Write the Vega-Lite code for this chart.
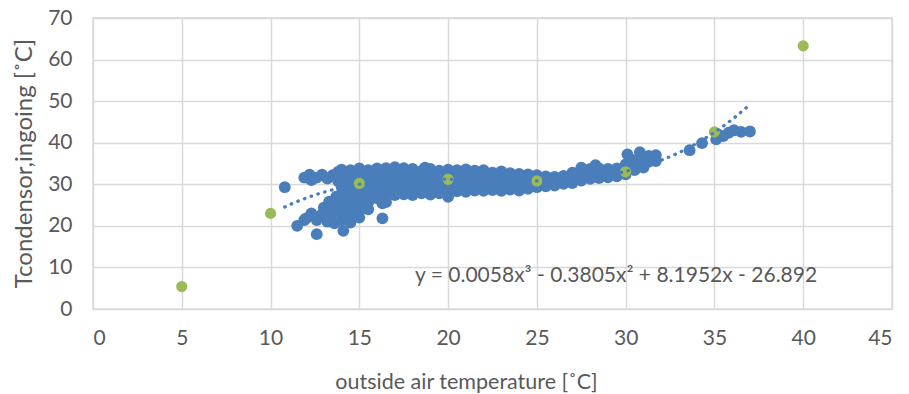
{
  "$schema": "https://vega.github.io/schema/vega-lite/v6.json",
  "width": 799,
  "height": 291,
  "autosize": "none",
  "padding": {"left": 93, "top": 18, "right": 17, "bottom": 85},
  "background": "white",
  "config": {
    "view": {"stroke": "#d9d9d9", "strokeWidth": 1.5},
    "font": "Lato",
    "axis": {
      "grid": true,
      "gridColor": "#d9d9d9",
      "gridWidth": 1.5,
      "domain": false,
      "ticks": false,
      "labelColor": "#595959",
      "labelFont": "Lato",
      "labelFontSize": 21,
      "titleColor": "#595959",
      "titleFont": "Lato",
      "titleFontSize": 21.5,
      "titleFontWeight": "normal"
    }
  },
  "datasets": {
    "blue": [
      {"x": 10.8, "y": 29.3}, {"x": 11.5, "y": 20.0}, {"x": 11.9, "y": 21.4}, {"x": 12.6, "y": 18.0}, {"x": 14.1, "y": 18.8}, {"x": 16.3, "y": 21.8},
      {"x": 11.9, "y": 31.6}, {"x": 12.2, "y": 32.3}, {"x": 12.3, "y": 31.0}, {"x": 12.6, "y": 31.6}, {"x": 12.9, "y": 32.3}, {"x": 13.2, "y": 31.4}, {"x": 13.5, "y": 32.2}, {"x": 13.8, "y": 30.8}, {"x": 13.8, "y": 33.0},
      {"x": 12.0, "y": 21.8}, {"x": 12.3, "y": 23.0}, {"x": 12.6, "y": 21.4}, {"x": 12.9, "y": 22.8}, {"x": 13.0, "y": 24.4}, {"x": 13.2, "y": 21.0}, {"x": 13.3, "y": 25.8}, {"x": 13.5, "y": 23.4}, {"x": 13.6, "y": 20.6}, {"x": 13.7, "y": 27.0}, {"x": 13.8, "y": 24.8}, {"x": 13.4, "y": 22.2},
      {"x": 14.0, "y": 21.4}, {"x": 14.0, "y": 23.0}, {"x": 14.0, "y": 24.6}, {"x": 14.0, "y": 26.2}, {"x": 14.0, "y": 27.8}, {"x": 14.0, "y": 29.4}, {"x": 14.0, "y": 31.0}, {"x": 14.0, "y": 32.4}, {"x": 14.0, "y": 33.5},
      {"x": 14.5, "y": 20.8}, {"x": 14.5, "y": 22.4}, {"x": 14.5, "y": 24.0}, {"x": 14.5, "y": 25.6}, {"x": 14.5, "y": 27.2}, {"x": 14.5, "y": 28.8}, {"x": 14.5, "y": 30.4}, {"x": 14.5, "y": 32.0}, {"x": 14.5, "y": 33.4},
      {"x": 15.0, "y": 22.0}, {"x": 15.0, "y": 23.6}, {"x": 15.0, "y": 25.2}, {"x": 15.0, "y": 26.8}, {"x": 15.0, "y": 28.4}, {"x": 15.0, "y": 30.0}, {"x": 15.0, "y": 31.6}, {"x": 15.0, "y": 33.0}, {"x": 15.0, "y": 33.8},
      {"x": 15.5, "y": 24.0}, {"x": 15.5, "y": 25.6}, {"x": 15.5, "y": 27.2}, {"x": 15.5, "y": 28.8}, {"x": 15.5, "y": 30.4}, {"x": 15.5, "y": 32.0}, {"x": 15.5, "y": 33.4},
      {"x": 16.0, "y": 26.6}, {"x": 16.0, "y": 28.2}, {"x": 16.0, "y": 29.8}, {"x": 16.0, "y": 31.4}, {"x": 16.0, "y": 32.8}, {"x": 16.0, "y": 33.8}, {"x": 16.3, "y": 25.4},
      {"x": 16.5, "y": 25.7}, {"x": 16.5, "y": 27.9}, {"x": 16.5, "y": 29.2}, {"x": 16.5, "y": 30.5}, {"x": 16.5, "y": 31.8}, {"x": 16.5, "y": 33.1}, {"x": 16.5, "y": 33.9},
      {"x": 17.0, "y": 27.4}, {"x": 17.0, "y": 28.9}, {"x": 17.0, "y": 30.2}, {"x": 17.0, "y": 31.5}, {"x": 17.0, "y": 32.8}, {"x": 17.0, "y": 34.1},
      {"x": 17.5, "y": 27.6}, {"x": 17.5, "y": 29.2}, {"x": 17.5, "y": 30.5}, {"x": 17.5, "y": 31.8}, {"x": 17.5, "y": 33.1}, {"x": 17.5, "y": 33.9},
      {"x": 18.0, "y": 27.4}, {"x": 18.0, "y": 29.0}, {"x": 18.0, "y": 30.3}, {"x": 18.0, "y": 31.6}, {"x": 18.0, "y": 32.9}, {"x": 18.0, "y": 33.7},
      {"x": 18.5, "y": 27.8}, {"x": 18.5, "y": 29.3}, {"x": 18.5, "y": 30.6}, {"x": 18.5, "y": 31.9}, {"x": 18.5, "y": 33.2}, {"x": 18.7, "y": 34.0},
      {"x": 19.0, "y": 27.5}, {"x": 19.0, "y": 29.1}, {"x": 19.0, "y": 30.4}, {"x": 19.0, "y": 31.7}, {"x": 19.0, "y": 33.0}, {"x": 19.0, "y": 33.7},
      {"x": 19.5, "y": 27.8}, {"x": 19.5, "y": 29.3}, {"x": 19.5, "y": 30.6}, {"x": 19.5, "y": 31.9}, {"x": 19.5, "y": 33.3},
      {"x": 20.0, "y": 27.0}, {"x": 20.0, "y": 28.6}, {"x": 20.0, "y": 29.9}, {"x": 20.0, "y": 31.2}, {"x": 20.0, "y": 32.5}, {"x": 20.0, "y": 33.5},
      {"x": 20.5, "y": 28.3}, {"x": 20.5, "y": 29.9}, {"x": 20.5, "y": 31.2}, {"x": 20.5, "y": 32.5}, {"x": 20.5, "y": 33.4},
      {"x": 21.0, "y": 28.2}, {"x": 21.0, "y": 29.7}, {"x": 21.0, "y": 31.0}, {"x": 21.0, "y": 32.3}, {"x": 21.0, "y": 33.6},
      {"x": 21.5, "y": 28.5}, {"x": 21.5, "y": 30.1}, {"x": 21.5, "y": 31.4}, {"x": 21.5, "y": 32.7}, {"x": 21.5, "y": 33.3},
      {"x": 22.0, "y": 28.4}, {"x": 22.0, "y": 29.9}, {"x": 22.0, "y": 31.2}, {"x": 22.0, "y": 32.5}, {"x": 22.0, "y": 33.4},
      {"x": 22.5, "y": 28.6}, {"x": 22.5, "y": 30.1}, {"x": 22.5, "y": 31.4}, {"x": 22.5, "y": 32.8},
      {"x": 23.0, "y": 28.4}, {"x": 23.0, "y": 29.9}, {"x": 23.0, "y": 31.2}, {"x": 23.0, "y": 32.5}, {"x": 23.0, "y": 33.1},
      {"x": 23.5, "y": 28.7}, {"x": 23.5, "y": 30.2}, {"x": 23.5, "y": 31.5}, {"x": 23.5, "y": 32.7},
      {"x": 24.0, "y": 28.5}, {"x": 24.0, "y": 30.0}, {"x": 24.0, "y": 31.3}, {"x": 24.0, "y": 32.5},
      {"x": 24.5, "y": 28.9}, {"x": 24.5, "y": 30.3}, {"x": 24.5, "y": 31.6}, {"x": 24.5, "y": 32.4},
      {"x": 25.0, "y": 29.3}, {"x": 25.0, "y": 30.6}, {"x": 25.0, "y": 31.8}, {"x": 25.0, "y": 32.2},
      {"x": 25.5, "y": 29.5}, {"x": 25.5, "y": 30.8}, {"x": 25.5, "y": 31.9},
      {"x": 26.0, "y": 29.7}, {"x": 26.0, "y": 30.9}, {"x": 26.0, "y": 31.8},
      {"x": 26.5, "y": 30.1}, {"x": 26.5, "y": 31.2}, {"x": 26.5, "y": 32.0},
      {"x": 27.0, "y": 30.3}, {"x": 27.0, "y": 31.6}, {"x": 27.0, "y": 32.8},
      {"x": 27.5, "y": 30.9}, {"x": 27.5, "y": 32.2}, {"x": 27.5, "y": 33.4}, {"x": 27.5, "y": 34.0},
      {"x": 28.0, "y": 31.3}, {"x": 28.0, "y": 32.6}, {"x": 28.0, "y": 33.7}, {"x": 28.3, "y": 34.6},
      {"x": 28.5, "y": 31.5}, {"x": 28.5, "y": 32.8}, {"x": 28.5, "y": 33.8},
      {"x": 29.0, "y": 31.7}, {"x": 29.0, "y": 33.0}, {"x": 29.0, "y": 33.7},
      {"x": 29.5, "y": 31.9}, {"x": 29.5, "y": 33.2}, {"x": 29.5, "y": 33.8},
      {"x": 30.0, "y": 32.4}, {"x": 30.0, "y": 33.6}, {"x": 30.0, "y": 34.8}, {"x": 30.1, "y": 37.2}, {"x": 30.3, "y": 36.0},
      {"x": 30.5, "y": 33.4}, {"x": 30.5, "y": 34.6}, {"x": 30.5, "y": 35.6}, {"x": 30.8, "y": 37.7},
      {"x": 31.0, "y": 34.0}, {"x": 31.0, "y": 35.2}, {"x": 31.0, "y": 36.4}, {"x": 31.3, "y": 35.4}, {"x": 31.3, "y": 36.8},
      {"x": 31.7, "y": 37.0}, {"x": 31.7, "y": 35.6},
      {"x": 33.6, "y": 38.2}, {"x": 34.3, "y": 39.9}, {"x": 35.1, "y": 40.8}, {"x": 35.2, "y": 42.0}, {"x": 35.5, "y": 41.6}, {"x": 35.8, "y": 42.4}, {"x": 36.1, "y": 43.0}, {"x": 36.5, "y": 42.6}, {"x": 37.0, "y": 42.7}
    ],
    "green": [
      {"x": 5, "y": 5.4}, {"x": 10, "y": 23.0}, {"x": 15, "y": 30.2}, {"x": 20, "y": 31.2},
      {"x": 25, "y": 30.8}, {"x": 30, "y": 33.0}, {"x": 35, "y": 42.6}, {"x": 40, "y": 63.3}
    ],
    "trend": [
      {"x": 10.8, "y": 24.55}, {"x": 11, "y": 24.94}, {"x": 12, "y": 26.68}, {"x": 13, "y": 28.09}, {"x": 14, "y": 29.18},
      {"x": 15, "y": 30.0}, {"x": 16, "y": 30.58}, {"x": 17, "y": 30.97}, {"x": 18, "y": 31.17}, {"x": 19, "y": 31.24},
      {"x": 20, "y": 31.21}, {"x": 21, "y": 31.12}, {"x": 22, "y": 31.0}, {"x": 23, "y": 30.89}, {"x": 24, "y": 30.8},
      {"x": 25, "y": 30.8}, {"x": 26, "y": 30.91}, {"x": 27, "y": 31.16}, {"x": 28, "y": 31.59}, {"x": 29, "y": 32.23},
      {"x": 30, "y": 33.12}, {"x": 31, "y": 34.29}, {"x": 32, "y": 35.78}, {"x": 33, "y": 37.62}, {"x": 34, "y": 39.85},
      {"x": 35, "y": 42.51}, {"x": 36, "y": 45.61}, {"x": 37, "y": 49.22}
    ],
    "eq": [
      {"x": 29.46, "y": 6.5, "label": "y = 0.0058x³  - 0.3805x²  + 8.1952x  - 26.892"}
    ]
  },
  "layer": [
    {
      "data": {"name": "blue"},
      "mark": {"type": "circle", "size": 140, "color": "#4a7ebb", "opacity": 1},
      "encoding": {
        "x": {
          "field": "x", "type": "quantitative",
          "scale": {"domain": [0, 45], "nice": false, "zero": false},
          "axis": {
            "values": [0, 5, 10, 15, 20, 25, 30, 35, 40, 45],
            "labelPadding": 18,
            "title": "outside air temperature [˚C]",
            "titleX": 373,
            "titleY": 79,
            "titleBaseline": "alphabetic"
          }
        },
        "y": {
          "field": "y", "type": "quantitative",
          "scale": {"domain": [0, 70], "nice": false, "zero": false},
          "axis": {
            "values": [0, 10, 20, 30, 40, 50, 60, 70],
            "labelPadding": 21,
            "title": "Tcondensor,ingoing [˚C]",
            "titleX": -62,
            "titleY": 145,
            "titleFontSize": 24,
            "titleBaseline": "alphabetic"
          }
        }
      }
    },
    {
      "data": {"name": "green"},
      "mark": {"type": "circle", "size": 125, "color": "#9bbb59", "opacity": 1},
      "encoding": {
        "x": {"field": "x", "type": "quantitative"},
        "y": {"field": "y", "type": "quantitative"}
      }
    },
    {
      "data": {"name": "trend"},
      "mark": {"type": "line", "color": "#4a7ebb", "strokeWidth": 3.3, "strokeDash": [0.5, 6.6], "strokeCap": "round", "interpolate": "monotone"},
      "encoding": {
        "x": {"field": "x", "type": "quantitative"},
        "y": {"field": "y", "type": "quantitative"}
      }
    },
    {
      "data": {"name": "eq"},
      "mark": {"type": "text", "font": "Lato", "fontSize": 21, "color": "#595959", "align": "center", "baseline": "alphabetic"},
      "encoding": {
        "x": {"field": "x", "type": "quantitative"},
        "y": {"field": "y", "type": "quantitative"},
        "text": {"field": "label"}
      }
    }
  ]
}
